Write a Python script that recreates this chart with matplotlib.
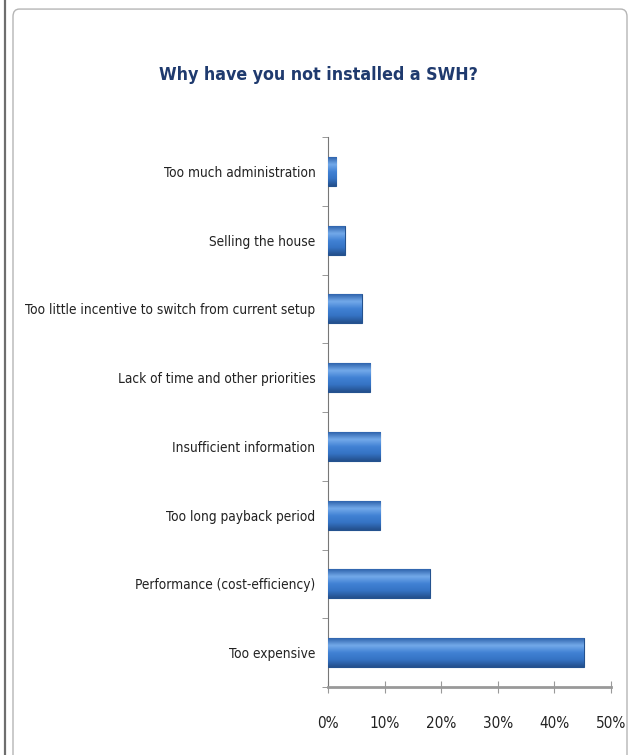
import numpy as np
import matplotlib.pyplot as plt
from matplotlib import font_manager
from matplotlib.patches import FancyBboxPatch
from matplotlib.colors import LinearSegmentedColormap

# survey answers, top to bottom
reasons = ['Too much administration', 'Selling the house',
           'Too little incentive to switch from current setup',
           'Lack of time and other priorities', 'Insufficient information',
           'Too long payback period', 'Performance (cost-efficiency)',
           'Too expensive']
shares = [1.5, 3.0, 6.0, 7.5, 9.2, 9.2, 18.0, 45.2]
xticks = [0, 10, 20, 30, 40, 50]

names = {f.name for f in font_manager.fontManager.ttflist}
narrow = 'Liberation Sans Narrow' if 'Liberation Sans Narrow' in names else 'DejaVu Sans'
plt.rcParams['font.family'] = [narrow, 'DejaVu Sans']
plt.rcParams['font.stretch'] = 'condensed'

fig = plt.figure(figsize=(6.32, 7.55), dpi=100)

# outer frame lines
fig.add_artist(plt.Line2D([5 / 632, 5 / 632], [0, 1], color='#6e6e6e', lw=1.6,
                          transform=fig.transFigure))
fig.add_artist(FancyBboxPatch((13 / 632, -0.05), 614 / 632, 1.038,
                              boxstyle='round,pad=0,rounding_size=0.01',
                              transform=fig.transFigure, fc='white',
                              ec='#b5b5b5', lw=1.0, zorder=-5))

ax = fig.add_axes([328 / 632, 1 - 687 / 755, 283 / 632, 550 / 755])
ax.set_facecolor('none')

y = np.arange(len(reasons))
bars = ax.barh(y, shares, height=0.42, color='#3b78c8', edgecolor='#24528f',
               lw=0.8, zorder=3)

# vertical shading for a rounded bar look
cmap = LinearSegmentedColormap.from_list('bar', ['#2f64ad', '#74aaea', '#4182d4', '#3573c4', '#234f8c'])
grad = np.linspace(0, 1, 64).reshape(-1, 1)
for b in bars:
    x0, y0 = b.get_x(), b.get_y()
    w, h = b.get_width(), b.get_height()
    im = ax.imshow(grad, cmap=cmap, aspect='auto', extent=[x0, x0 + w, y0 + h, y0],
                   zorder=4, interpolation='bicubic')
    im.set_clip_path(b)

ax.set_ylim(len(reasons) - 0.5, -0.5)
ax.set_xlim(0, 50)
ax.set_yticks(y)
ax.set_yticklabels(reasons, fontsize=9.8, color='#222222')
ax.set_yticks(np.arange(-0.5, len(reasons)), minor=True)
ax.tick_params(axis='y', which='major', length=0, pad=9)
ax.tick_params(axis='y', which='minor', length=4, color='#888888', direction='out')
ax.set_xticks(xticks)
ax.set_xticklabels([f'{t}%' for t in xticks], fontsize=11, color='#222222')
ax.tick_params(axis='x', length=8, color='#999999', direction='inout', pad=17)

for s in ['top', 'right']:
    ax.spines[s].set_visible(False)
ax.spines['left'].set_color('#777777')
ax.spines['bottom'].set_color('#999999')
ax.spines['bottom'].set_linewidth(2)

fig.text(318 / 632, 1 - 75 / 755, 'Why have you not installed a SWH?', ha='center',
         va='center', fontsize=12.8, fontweight='bold', color='#1f3a6e')

fig.savefig('out.png', dpi=100)
